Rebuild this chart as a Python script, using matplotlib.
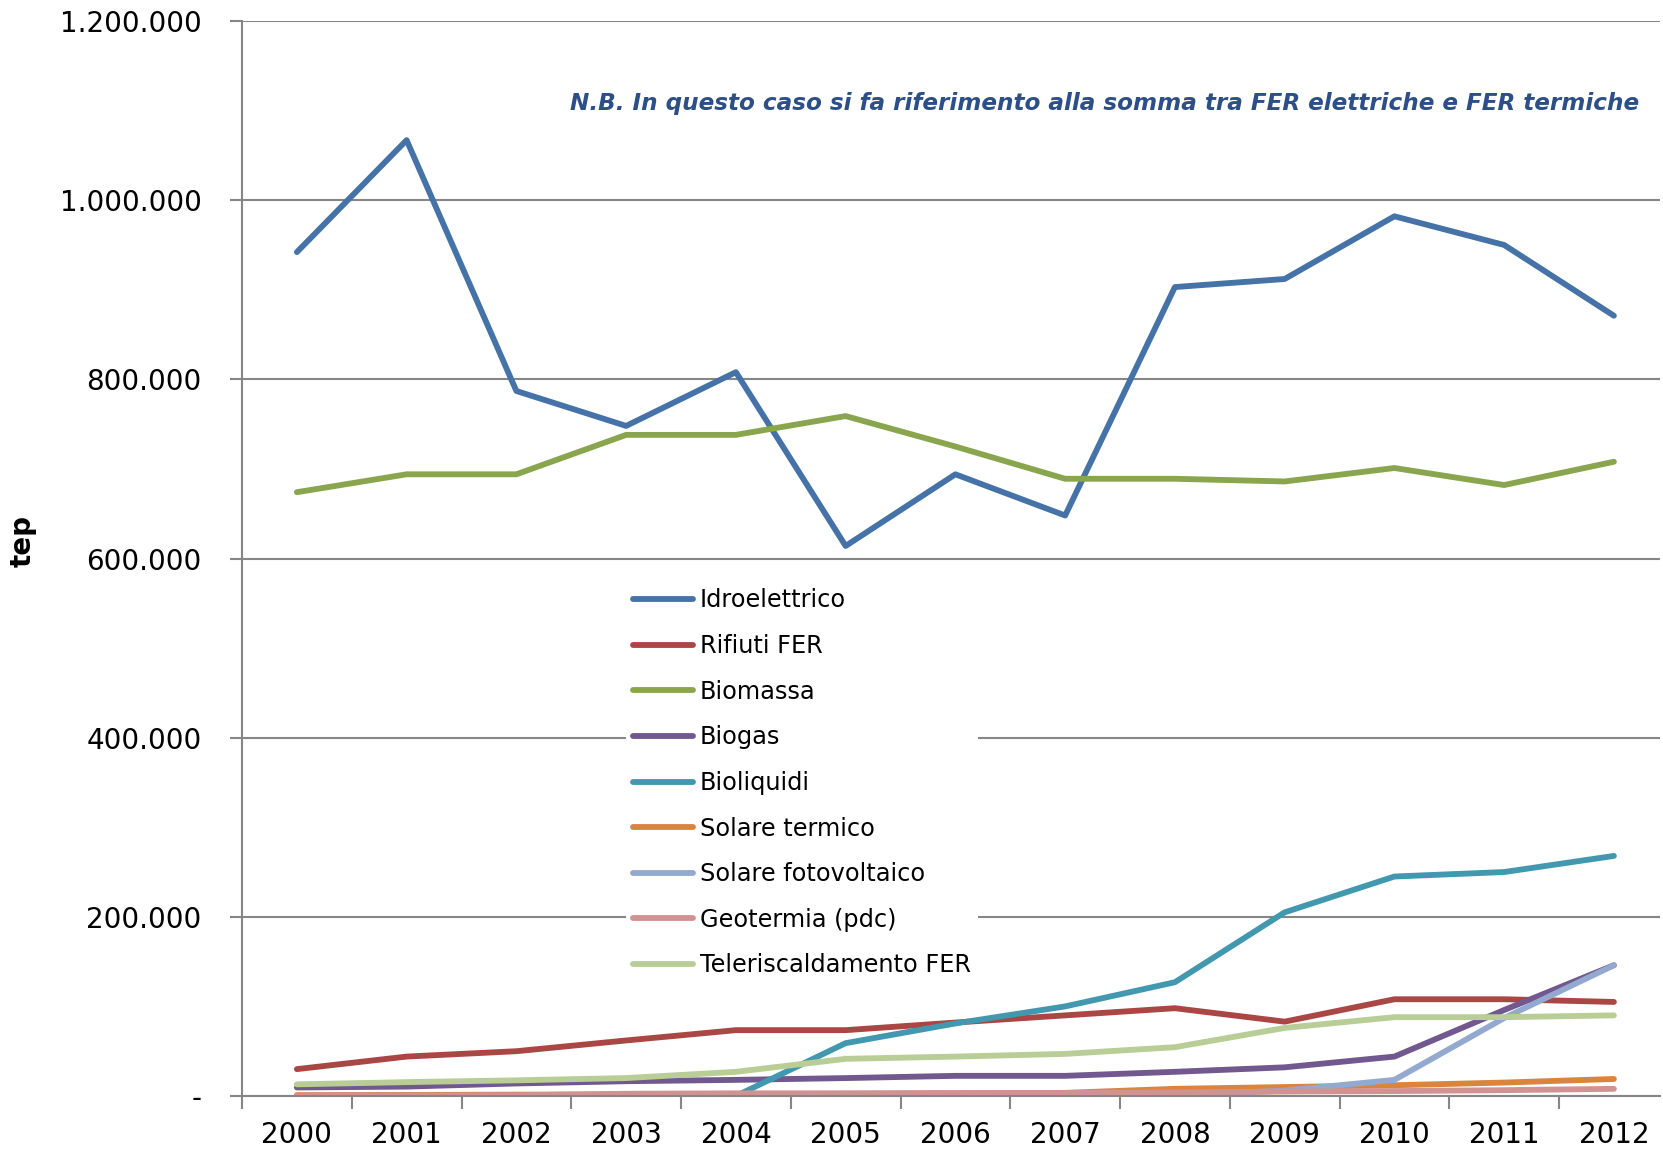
import matplotlib.pyplot as plt
from matplotlib.ticker import FixedLocator, FuncFormatter

years = ["2000", "2001", "2002", "2003", "2004", "2005", "2006",
         "2007", "2008", "2009", "2010", "2011", "2012"]

idroelettrico = [942000, 1067000, 787000, 748000, 808000, 614000, 694000,
                 648000, 903000, 912000, 982000, 950000, 871000]
rifiuti = [30000, 44000, 50000, 62000, 73500, 73500, 82000,
           90000, 98000, 83000, 108000, 108000, 105000]
biomassa = [674000, 694000, 694000, 738000, 738000, 759000, 725000,
            689000, 689000, 686000, 701000, 682000, 708000]
biogas = [9500, 10500, 14000, 16500, 18000, 20000, 22500,
          22500, 27000, 32000, 44000, 96000, 146000]
bioliquidi = [0, 0, 0, 0, 0, 59000, 81000,
              100000, 127000, 205000, 245000, 250000, 268000]
solare_termico = [1000, 1200, 1500, 1800, 2000, 2500, 3000,
                  3500, 8000, 10000, 12000, 15000, 19000]
fotovoltaico = [0, 0, 0, 0, 0, 0, 0,
                0, 500, 6000, 18000, 87000, 146000]
geotermia = [500, 600, 800, 2500, 3000, 3000, 3200,
             3400, 4000, 5000, 5500, 6500, 8000]
teleriscaldamento = [13000, 15500, 17500, 20000, 27000, 41500, 44000,
                     47000, 54500, 76000, 88000, 88000, 90000]

series = [
    ("Idroelettrico", idroelettrico, "#4572A7"),
    ("Rifiuti FER", rifiuti, "#AA4643"),
    ("Biomassa", biomassa, "#89A54E"),
    ("Biogas", biogas, "#71588F"),
    ("Bioliquidi", bioliquidi, "#4198AF"),
    ("Solare termico", solare_termico, "#DB843D"),
    ("Solare fotovoltaico", fotovoltaico, "#93A9CF"),
    ("Geotermia (pdc)", geotermia, "#D19392"),
    ("Teleriscaldamento FER", teleriscaldamento, "#B9CD96"),
]

y_ticks = [0, 200000, 400000, 600000, 800000, 1000000, 1200000]

fig = plt.figure(figsize=(16.63, 11.52), dpi=100)
ax = fig.add_axes([242 / 1663, 56 / 1152, (1660 - 242) / 1663, (1096 - 21) / 1152])

x = list(range(len(years)))
for name, vals, col in series:
    ax.plot(x, vals, color=col, lw=4.2, label=name, solid_capstyle="round",
            solid_joinstyle="round")

ax.set_xlim(-0.5, 12.42)
ax.set_ylim(0, 1200000)

grid_col = "#868686"
ax.set_axisbelow(True)
ax.yaxis.grid(True, color=grid_col, lw=1.5)
for s in ["top", "right"]:
    ax.spines[s].set_visible(False)
for s in ["left", "bottom"]:
    ax.spines[s].set_color(grid_col)
    ax.spines[s].set_linewidth(1.5)

ax.set_yticks(y_ticks)
ax.yaxis.set_major_formatter(FuncFormatter(
    lambda v, p: "-" if v == 0 else f"{int(v):,}".replace(",", ".")))
ax.tick_params(axis="y", length=9, width=1.5, color=grid_col, pad=20,
               labelsize=20)

ax.set_xticks(x)
ax.set_xticklabels(years)
ax.xaxis.set_minor_locator(FixedLocator([i - 0.5 for i in range(len(years) + 1)]))
ax.tick_params(axis="x", which="major", length=0, pad=18, labelsize=20)
ax.tick_params(axis="x", which="minor", length=9, width=1.5, color=grid_col)

fig.text(23 / 1663, 1 - 541 / 1152, "tep", rotation=90, ha="center", va="center",
         fontsize=20, fontweight="bold")

ax.text(0.985, 0.923, "N.B. In questo caso si fa riferimento alla somma tra FER elettriche e FER termiche",
        transform=ax.transAxes, ha="right", va="center", fontsize=16.7,
        fontweight="bold", fontstyle="italic", color="#2B4F86")

leg = ax.legend(loc="upper left", bbox_to_anchor=(0.262, 0.49), fontsize=17.3,
                handlelength=2.5, handletextpad=0.3, labelspacing=0.9,
                frameon=True, facecolor="white", edgecolor="none",
                framealpha=1, borderpad=0.3)

fig.savefig("out.png", dpi=100)
